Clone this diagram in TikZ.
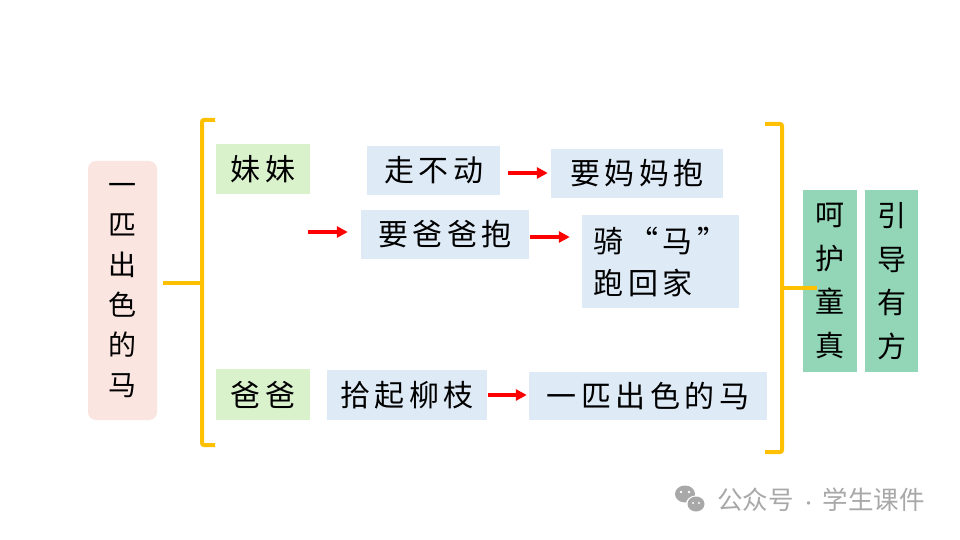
\documentclass[tikz,border=0pt]{standalone}
\usepackage{fontspec}
\usetikzlibrary{arrows.meta}
\newfontfamily\cjk[LetterSpace=15]{Noto Sans CJK SC}
\newfontfamily\cjkv{Noto Sans CJK SC}
\definecolor{brk}{HTML}{FFC000}
\definecolor{blueF}{HTML}{DEEBF7}
\definecolor{greenF}{HTML}{D9F2CC}
\definecolor{pinkF}{HTML}{FBE5E1}
\definecolor{tealF}{HTML}{93D6B7}
\definecolor{wm}{HTML}{A8A8A8}
\begin{document}
\begin{tikzpicture}[x=1pt,y=-1pt,
  box/.style={inner sep=0pt, text=black, font=\cjk\fontsize{30}{42}\selectfont},
  bluebox/.style={box, fill=blueF},
  greenbox/.style={box, fill=greenF},
  vbox/.style={box, fill=tealF, align=center, font=\cjkv\fontsize{29}{43.5}\selectfont},
  arr/.style={draw=red, line width=3.2pt, -{Triangle[length=11pt,width=11pt]}},
  bracket/.style={draw=brk, line width=4pt, rounded corners=2pt}]
\useasboundingbox[fill=white] (0,0) rectangle (960,540);

% left title box
\node[box, fill=pinkF, rounded corners=8pt, minimum width=69pt, minimum height=259pt,
      align=center, font=\cjkv\fontsize{28}{40}\selectfont] (title) at (122.5,290.5)
  {一\\匹\\出\\色\\的\\马};

% people
\node[greenbox, minimum width=94pt, minimum height=50pt] (meimei) at (263,169) {妹妹};
\node[greenbox, minimum width=94pt, minimum height=51pt] (baba) at (263,394.5) {爸爸};

% blue boxes
\node[bluebox, minimum width=133pt, minimum height=49pt] (zbd) at (433.5,170.5) {走不动};
\node[bluebox, minimum width=172pt, minimum height=49pt] (ymmb) at (637,173.5) {要妈妈抱};
\node[bluebox, minimum width=168pt, minimum height=49pt] (ybbb) at (445,234.5) {要爸爸抱};
\node[bluebox, minimum width=157pt, minimum height=93pt, align=left] (qm) at (660.5,261.5) {骑“马”\\跑回家};
\node[bluebox, minimum width=160pt, minimum height=50pt] (sqlz) at (407,395) {拾起柳枝};
\node[bluebox, minimum width=238pt, minimum height=48pt] (ypcs) at (648,396) {一匹出色的马};

% arrows
\coordinate (free) at (308,232);
\draw[arr, shorten <=8pt, shorten >=3pt] ([yshift=-2.5pt]zbd.east) -- ([yshift=0.5pt]ymmb.west);
\draw[arr, shorten >=13pt] (free) -- ([yshift=2.5pt]ybbb.west);
\draw[arr, shorten <=1pt, shorten >=12pt] ([yshift=-2.5pt]ybbb.east) -- ([yshift=24.5pt]qm.west);
\draw[arr, shorten <=1pt, shorten >=2pt] (sqlz.east) -- ([yshift=1pt]ypcs.west);

% left bracket
\coordinate (lb) at (202,283);
\draw[bracket] ([xshift=6pt,yshift=7.5pt]title.east) -- (lb);
\draw[bracket] (215,120) -- (202,120) -- (202,445) -- (215,445);

% right boxes
\node[vbox, minimum width=54pt, minimum height=182pt] (hh) at (830,281) {呵\\护\\童\\真};
\node[vbox, minimum width=53pt, minimum height=182pt] (yd) at (891.5,281) {引\\导\\有\\方};

% right bracket
\coordinate (rb) at (782,288);
\draw[bracket] (765,124) -- (782,124) -- (782,452) -- (765,452);
\draw[bracket] (rb) -- ([xshift=14pt,yshift=-7pt]hh.west);

% watermark
\fill[wm] (685,494) ellipse [x radius=10pt, y radius=8.5pt];
\fill[white] (696,504) ellipse [x radius=10pt, y radius=8.5pt];
\fill[wm] (696,504) ellipse [x radius=8.5pt, y radius=7.5pt];
\fill[white] (681,492) circle (1.4pt) (689,492) circle (1.4pt) (693,503) circle (1.2pt) (699,503) circle (1.2pt);
\node[inner sep=0pt, text=wm, font=\cjkv\fontsize{25.5}{28}\selectfont, anchor=west] (wmtext) at (717,500) {公众号\makebox[29pt][r]{{\fontsize{16}{16}\selectfont·}\hspace{6pt}}学生课件};
\end{tikzpicture}
\end{document}
